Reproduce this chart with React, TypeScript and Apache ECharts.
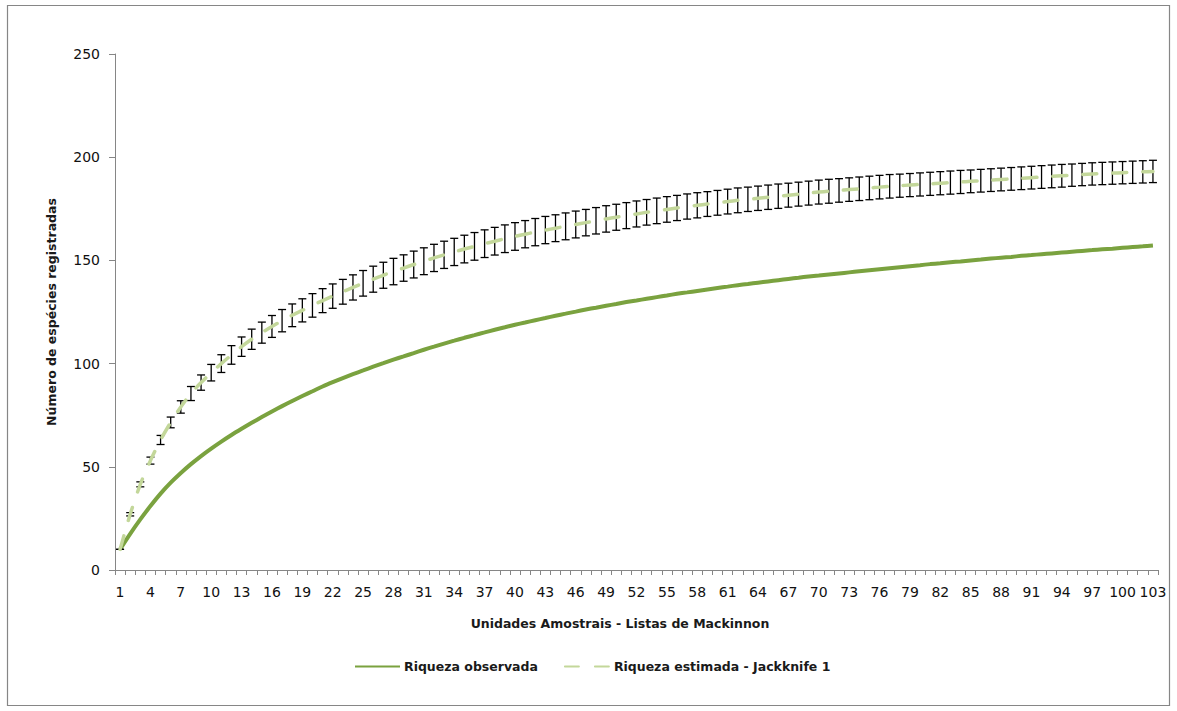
import React, { useEffect, useRef } from "react";
import * as echarts from "echarts";

const categories: string[] = Array.from({ length: 103 }, (_, i) => String(i + 1));

const observed: number[] = [
  10, 17.5, 24.5, 31, 37, 42.3, 47, 51.3, 55.2, 58.8,
  62.2, 65.4, 68.4, 71.3, 74.1, 76.8, 79.4, 81.9, 84.3, 86.6,
  88.9, 91, 93, 94.9, 96.7, 98.5, 100.2, 101.9, 103.5, 105.1,
  106.7, 108.2, 109.7, 111.1, 112.5, 113.8, 115.1, 116.4, 117.6, 118.8,
  119.9, 121, 122.1, 123.2, 124.2, 125.2, 126.2, 127.1, 128, 128.9,
  129.8, 130.6, 131.4, 132.2, 133, 133.8, 134.5, 135.2, 135.9, 136.6,
  137.3, 138, 138.6, 139.2, 139.8, 140.4, 141, 141.6, 142.2, 142.7,
  143.2, 143.7, 144.2, 144.7, 145.2, 145.7, 146.2, 146.7, 147.2, 147.7,
  148.2, 148.6, 149.1, 149.5, 150, 150.4, 150.9, 151.3, 151.7, 152.2,
  152.6, 153, 153.4, 153.8, 154.2, 154.6, 155, 155.4, 155.7, 156.1,
  156.5, 156.8, 157.2,
];

const estimated: number[] = [
  10, 27, 41.5, 53, 63, 71.5, 79, 85.5, 90.8, 95.6,
  100, 104.2, 108.2, 111.8, 115, 118, 120.8, 123.4, 125.8, 128.2,
  130.5, 132.7, 134.8, 136.9, 138.9, 140.9, 142.8, 144.6, 146.3, 148,
  149.6, 151.2, 152.7, 154.1, 155.5, 156.8, 158.1, 159.3, 160.5, 161.6,
  162.7, 163.7, 164.7, 165.6, 166.5, 167.4, 168.3, 169.2, 170.1, 170.9,
  171.7, 172.5, 173.3, 174, 174.7, 175.4, 176.1, 176.7, 177.3, 177.9,
  178.5, 179.1, 179.6, 180.1, 180.6, 181.1, 181.6, 182.1, 182.6, 183.1,
  183.5, 183.9, 184.3, 184.7, 185.1, 185.5, 185.9, 186.2, 186.5, 186.8,
  187.1, 187.4, 187.7, 188, 188.3, 188.6, 188.9, 189.2, 189.5, 189.8,
  190.1, 190.4, 190.7, 191, 191.3, 191.6, 191.9, 192.1, 192.3, 192.5,
  192.7, 192.9, 193.1,
];

const estimatedError: number[] = [
  0, 0.8, 1.2, 1.7, 2.2, 2.6, 3, 3.4, 3.7, 4,
  4.3, 4.5, 4.7, 4.9, 5.1, 5.3, 5.4, 5.5, 5.6, 5.7,
  5.8, 5.9, 6, 6.1, 6.2, 6.3, 6.3, 6.4, 6.4, 6.5,
  6.5, 6.6, 6.6, 6.6, 6.7, 6.7, 6.7, 6.7, 6.7, 6.7,
  6.6, 6.6, 6.6, 6.5, 6.5, 6.5, 6.4, 6.4, 6.4, 6.3,
  6.3, 6.3, 6.2, 6.2, 6.2, 6.1, 6.1, 6.1, 6, 6,
  6, 6, 5.9, 5.9, 5.9, 5.9, 5.8, 5.8, 5.8, 5.8,
  5.8, 5.7, 5.7, 5.7, 5.7, 5.7, 5.7, 5.6, 5.6, 5.6,
  5.6, 5.6, 5.6, 5.6, 5.5, 5.5, 5.5, 5.5, 5.5, 5.5,
  5.5, 5.5, 5.5, 5.5, 5.4, 5.4, 5.4, 5.4, 5.4, 5.4,
  5.4, 5.4, 5.4,
];

const seriesNames = ["Riqueza observada", "Riqueza estimada - Jackknife 1"];
const xAxisTitle = "Unidades Amostrais - Listas de Mackinnon";
const yAxisTitle = "Número de espécies registradas";

export default function App() {
  const ref = useRef<HTMLDivElement>(null);

  useEffect(() => {
    if (!ref.current) return;
    const chart = echarts.init(ref.current, null, { renderer: "svg" });
    const errData = categories.map((_, i) => [
      i,
      estimated[i] - estimatedError[i],
      estimated[i] + estimatedError[i],
    ]);
    const font = "DejaVu Sans";
    chart.setOption({
      animation: false,
      backgroundColor: "#ffffff",
      graphic: [
        {
          type: "rect",
          shape: { x: 7.5, y: 5.5, width: 1162, height: 700 },
          style: { fill: "none", stroke: "#868686", lineWidth: 1.2 },
          silent: true,
        },
      ],
      grid: { left: 115, top: 54, right: 19, bottom: 141, containLabel: false },
      legend: {
        bottom: 33,
        left: 349,
        itemWidth: 45,
        itemHeight: 10,
        itemGap: 26,
        data: seriesNames,
        itemStyle: { opacity: 0, borderWidth: 0 },
        textStyle: { fontFamily: font, fontWeight: "bold", fontSize: 12.5, color: "#1a1a1a", padding: [0, 0, 0, -1] },
      },
      xAxis: {
        type: "category",
        data: categories,
        boundaryGap: true,
        name: xAxisTitle,
        nameLocation: "middle",
        nameGap: 47,
        nameTextStyle: { fontFamily: font, fontWeight: "bold", fontSize: 12.5, color: "#1a1a1a", padding: [0, 33, 0, 0] },
        axisLine: { show: true, lineStyle: { color: "#868686", width: 1 } },
        axisTick: { show: true, interval: 0, length: 5, lineStyle: { color: "#868686" } },
        axisLabel: { interval: 2, margin: 15, fontFamily: font, fontSize: 14, color: "#111", hideOverlap: false },
        splitLine: { show: false },
      },
      yAxis: {
        type: "value",
        min: 0,
        max: 250,
        interval: 50,
        name: yAxisTitle,
        nameLocation: "middle",
        nameGap: 57,
        nameRotate: 90,
        nameTextStyle: { fontFamily: font, fontWeight: "bold", fontSize: 12.5, color: "#1a1a1a" },
        axisLine: { show: true, lineStyle: { color: "#868686", width: 1 } },
        axisTick: { show: true, length: 6, lineStyle: { color: "#868686" } },
        axisLabel: { margin: 15, fontFamily: font, fontSize: 14, color: "#111" },
        splitLine: { show: false },
      },
      series: [
        {
          name: seriesNames[0],
          type: "line",
          data: observed,
          smooth: 0.3,
          symbol: "none",
          showSymbol: false,
          lineStyle: { color: "#7aa23f", width: 4 },
          itemStyle: { color: "#7aa23f" },
          z: 3,
        },
        {
          name: "errorbars",
          type: "custom",
          data: errData,
          z: 4,
          silent: true,
          renderItem: (params: any, api: any) => {
            const idx = api.value(0);
            const lo = api.coord([idx, api.value(1)]);
            const hi = api.coord([idx, api.value(2)]);
            const hw = 4;
            const style = { stroke: "#000", lineWidth: 1.3 };
            return {
              type: "group",
              children: [
                { type: "line", shape: { x1: lo[0], y1: lo[1], x2: hi[0], y2: hi[1] }, style },
                { type: "line", shape: { x1: lo[0] - hw, y1: lo[1], x2: lo[0] + hw, y2: lo[1] }, style },
                { type: "line", shape: { x1: hi[0] - hw, y1: hi[1], x2: hi[0] + hw, y2: hi[1] }, style },
              ],
            };
          },
        },
        {
          name: seriesNames[1],
          type: "line",
          data: estimated,
          smooth: 0.3,
          symbol: "none",
          showSymbol: false,
          lineStyle: { color: "#c3d79a", width: 3.5, type: [14, 16], cap: "round" },
          itemStyle: { color: "#c3d79a" },
          z: 5,
        },
      ],
    });
    return () => chart.dispose();
  }, []);

  return (
    <div
      ref={ref}
      style={{ position: "absolute", left: 0, top: 0, width: 1177, height: 711 }}
    />
  );
}
